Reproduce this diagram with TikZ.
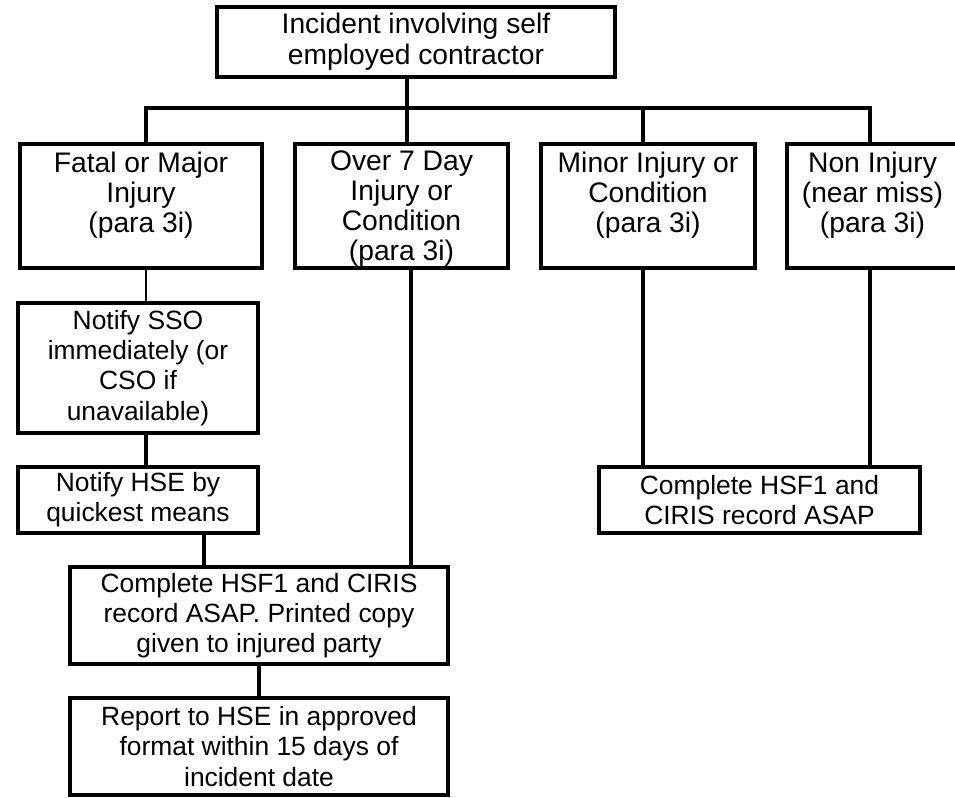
\documentclass[tikz,border=0pt]{standalone}
\usepackage{fontspec}
\setmainfont{Liberation Sans}
\usepackage{tikz}
\newcommand{\casegap}{\rule{0pt}{18pt}}
\tikzset{
	box/.style={draw, line width=3pt, inner sep=0pt, align=center, font=\fontsize{19.8}{22.6}\selectfont},
	bigbox/.style={box, font=\fontsize{21.2}{23}\selectfont},
	casebox/.style={bigbox, minimum height=124*0.75pt, font=\fontsize{21.2}{22.5}\selectfont},
	link/.style={line width=3pt},
	thinlink/.style={line width=1.1pt}
}

\begin{document}
\begin{tikzpicture}[x=0.75pt, y=-0.75pt, line join=miter]
		%%%%% START %%%%%
		\useasboundingbox (0, 0) rectangle (955, 798);
		
		\node[bigbox, minimum width=398*0.75pt, minimum height=70*0.75pt] (top) at (416, 42) {Incident involving self\\employed contractor};
		
		\node[casebox, minimum width=242*0.75pt] (fatal) at (141, 206) {\casegap Fatal or Major\\Injury\\(para 3i)\\\mbox{}};
		\node[casebox, minimum width=213*0.75pt] (over) at (401.5, 206) {\casegap Over 7 Day\\Injury or\\Condition\\(para 3i)};
		\node[casebox, minimum width=214*0.75pt] (minor) at (648, 206) {\casegap Minor Injury or\\Condition\\(para 3i)\\\mbox{}};
		\node[casebox, minimum width=171*0.75pt] (non) at (872.5, 206) {\casegap Non Injury\\(near miss)\\(para 3i)\\\mbox{}};
		
		\node[box, minimum width=240*0.75pt, minimum height=130*0.75pt] (sso) at (138, 368) {Notify SSO\\immediately (or\\CSO if\\unavailable)};
		\node[box, minimum width=240*0.75pt, minimum height=66*0.75pt] (hse) at (138, 500) {Notify HSE by\\quickest means};
		\node[box, minimum width=378*0.75pt, minimum height=97*0.75pt] (complete) at (259, 615.5) {Complete HSF1 and CIRIS\\record ASAP. Printed copy\\given to injured party};
		\node[box, minimum width=378*0.75pt, minimum height=97*0.75pt] (report) at (259, 746.5) {Report to HSE in approved\\format within 15 days of\\incident date};
		\node[box, minimum width=321*0.75pt, minimum height=66*0.75pt] (record) at (759.5, 500) {Complete HSF1 and\\CIRIS record ASAP};
		
		% bus under the top box
		\coordinate (j1) at (146, 108);
		\coordinate (j2) at (407, 108);
		\coordinate (j3) at (643, 108);
		\coordinate (j4) at (870, 108);
		\coordinate (k1) at (204, 550);
		\coordinate (k2) at (411, 550);
		
		\draw[link] (fatal.north -| j1) -- (j1) -- (j4) -- (non.north -| j4);
		\draw[link] (top.south -| j2) -- (over.north -| j2);
		\draw[link] (j3) -- (minor.north -| j3);
		
		% left branch
		\draw[thinlink] (fatal.south -| j1) -- (sso.north -| j1);
		\draw[link] (sso.south -| j1) -- (hse.north -| j1);
		\draw[link] (hse.south -| k1) -- (complete.north -| k1);
		\draw[link] (over.south -| k2) -- (complete.north -| k2);
		\draw[link] (complete.south) -- (report.north);
		
		% right branch
		\draw[link] (minor.south -| j3) -- (record.north -| j3);
		\draw[link] (non.south -| j4) -- (record.north -| j4);
		%%%%% END %%%%%
	\end{tikzpicture}
\end{document}
